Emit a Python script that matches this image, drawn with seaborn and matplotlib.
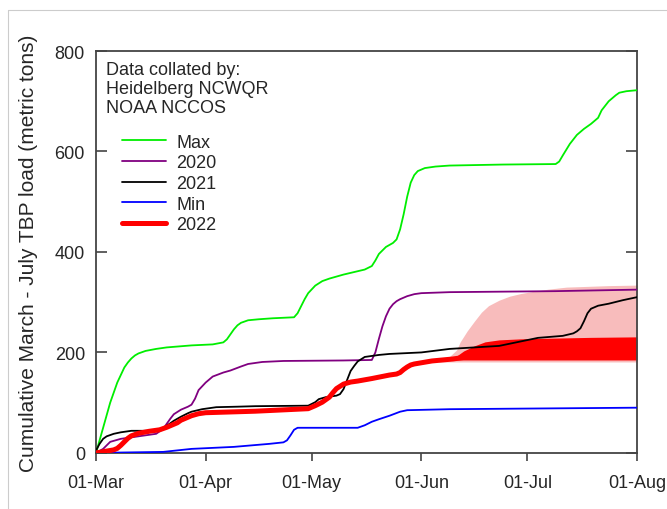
import numpy as np
import pandas as pd
import matplotlib
matplotlib.use('Agg')
import matplotlib.pyplot as plt
import seaborn as sns
from matplotlib.lines import Line2D

# days since 01-Mar, cumulative TBP load (metric tons)
max_days = [0, 2, 4, 6, 8, 9, 10, 11, 12, 14, 17, 20, 27, 33, 36, 37, 38, 39, 40, 41, 43, 46, 50, 56,
            57, 58, 59, 60, 62, 64, 66, 70, 76, 78, 79, 80, 82, 84, 85, 86, 87, 88, 89, 90, 91, 93,
            96, 100, 115, 130, 131, 132, 134, 136, 138, 140, 142, 143, 145, 147, 148, 150, 153]
max_vals = [0, 50, 100, 140, 170, 180, 188, 194, 198, 203, 207, 210, 214, 216, 220, 226, 236, 246, 254,
            259, 264, 266, 268, 270, 278, 292, 306, 318, 333, 342, 347, 355, 365, 372, 383, 396, 410,
            418, 425, 445, 475, 510, 538, 553, 561, 567, 570, 572, 574, 575, 580, 592, 615, 633, 645,
            655, 667, 682, 700, 712, 717, 720, 722]

y2020_days = [0, 2, 4, 7, 12, 17, 19, 20, 21, 22, 24, 26, 27, 28, 29, 31, 33, 36, 38, 41, 43, 47, 53,
              70, 78, 79, 80, 81, 82, 83, 84, 85, 86, 88, 90, 92, 100, 130, 153]
y2020_vals = [0, 8, 22, 28, 33, 38, 48, 58, 68, 77, 86, 92, 96, 108, 125, 140, 152, 160, 164, 172, 177,
              181, 183, 184, 185, 200, 227, 252, 272, 287, 296, 302, 306, 312, 316, 318, 320, 322, 325]

y2021_days = [0, 1, 2, 3, 5, 7, 10, 17, 18, 20, 22, 24, 26, 27, 30, 34, 40, 45, 60, 62, 63, 65, 68, 69,
              70, 71, 72, 73, 74, 76, 80, 83, 92, 100, 114, 125, 132, 135, 136, 137, 138, 139, 140, 142,
              145, 149, 153]
y2021_vals = [5, 18, 28, 33, 38, 41, 44, 44, 46, 54, 64, 72, 79, 82, 87, 91, 92, 93, 94, 101, 107, 111,
              114, 117, 127, 145, 163, 173, 182, 191, 195, 197, 200, 207, 213, 229, 233, 238, 242, 248,
              262, 278, 287, 293, 297, 304, 310]

min_days = [0, 19, 27, 39, 49, 53, 54, 55, 56, 57, 74, 76, 78, 80, 83, 86, 88, 100, 153]
min_vals = [0, 2, 8, 12, 18, 21, 25, 35, 46, 50, 50, 55, 62, 67, 74, 82, 85, 87, 90]

y2022_days = [0, 5, 6, 7, 8, 9, 10, 12, 15, 18, 20, 21, 23, 24, 26, 27, 29, 31, 45, 60, 62, 64, 66,
              67, 68, 70, 72, 74, 78, 83, 85, 86, 87, 88, 89, 90, 95, 101, 104]
y2022_vals = [0, 6, 9, 15, 22, 29, 34, 39, 43, 46, 51, 54, 60, 65, 71, 74, 78, 80, 83, 88, 94, 101, 111,
              120, 128, 137, 141, 143, 148, 155, 157, 160, 166, 171, 175, 177, 183, 187, 190]

# forecast ranges for 2022
red_days = [101, 104, 107, 110, 114, 120, 126, 140, 153]
red_low = [185, 185, 185, 185, 185, 185, 185, 185, 185]
red_high = [188, 203, 213, 221, 225, 227, 228, 230, 231]

pink_days = [97, 100, 102, 103, 105, 107, 109, 111, 114, 117, 120, 124, 128, 133, 145, 153]
pink_low = [181, 181, 181, 181, 181, 181, 181, 181, 181, 181, 181, 181, 181, 181, 181, 181]
pink_high = [185, 192, 205, 221, 243, 262, 280, 293, 304, 312, 317, 322, 326, 330, 333, 334]

tick_days = [0, 31, 61, 92, 122, 153]
tick_labels = ['01-Mar', '01-Apr', '01-May', '01-Jun', '01-Jul', '01-Aug']

sns.set_style('ticks')
plt.rcParams['font.family'] = ['Liberation Sans', 'DejaVu Sans']

fig = plt.figure(figsize=(6.67, 5.10), dpi=100)
ax = fig.add_axes([0.144, 0.110, 0.811, 0.788])

ax.fill_between(pink_days, pink_low, pink_high, color='#f8bcbc', lw=0, zorder=1)
ax.fill_between(red_days, red_low, red_high, color='#ff0000', lw=0, zorder=2)

series = [
    ('Max', max_days, max_vals, '#00ee00', 1.3),
    ('2020', y2020_days, y2020_vals, '#800080', 1.3),
    ('2021', y2021_days, y2021_vals, 'black', 1.3),
    ('Min', min_days, min_vals, '#0000ff', 1.3),
    ('2022', y2022_days, y2022_vals, '#ff0000', 3.6),
]
handles = []
for name, d, v, c, lw in series:
    df = pd.DataFrame({'day': d, 'load': v})
    sns.lineplot(data=df, x='day', y='load', color=c, lw=lw, ax=ax, zorder=3)
    handles.append(Line2D([0], [0], color=c, lw=lw, label=name))

ax.set_xlim(0, 153)
ax.set_ylim(0, 800)
ax.set_xticks(tick_days)
ax.set_xticklabels(tick_labels)
ax.set_yticks([0, 200, 400, 600, 800])
ax.set_xlabel('')
ax.set_ylabel('Cumulative March - July TBP load (metric tons)', fontsize=15, labelpad=12)
ax.tick_params(axis='y', direction='in', length=8, right=True, labelsize=13, width=1.2,
               color='#444444', pad=8)
ax.tick_params(axis='x', direction='out', length=6, labelsize=13, width=1.2, color='#444444', pad=9)
for s in ax.spines.values():
    s.set_color('#444444')
    s.set_linewidth(1.3)

ax.text(0.018, 0.975, 'Data collated by:\nHeidelberg NCWQR\nNOAA NCCOS', transform=ax.transAxes,
        fontsize=13, va='top', ha='left', linespacing=1.15)
ax.legend(handles=handles, loc='upper left', bbox_to_anchor=(0.035, 0.812), frameon=False, fontsize=13,
          handlelength=2.4, handletextpad=0.6, labelspacing=0.2, borderaxespad=0)

# light frame of the original screenshot
fig.add_artist(Line2D([8 / 667, 1], [1 - 11 / 510, 1 - 11 / 510], color='#cccccc', lw=0.8))
fig.add_artist(Line2D([8 / 667, 8 / 667], [0, 1 - 11 / 510], color='#cccccc', lw=0.8))

fig.savefig('out.png', dpi=100)
